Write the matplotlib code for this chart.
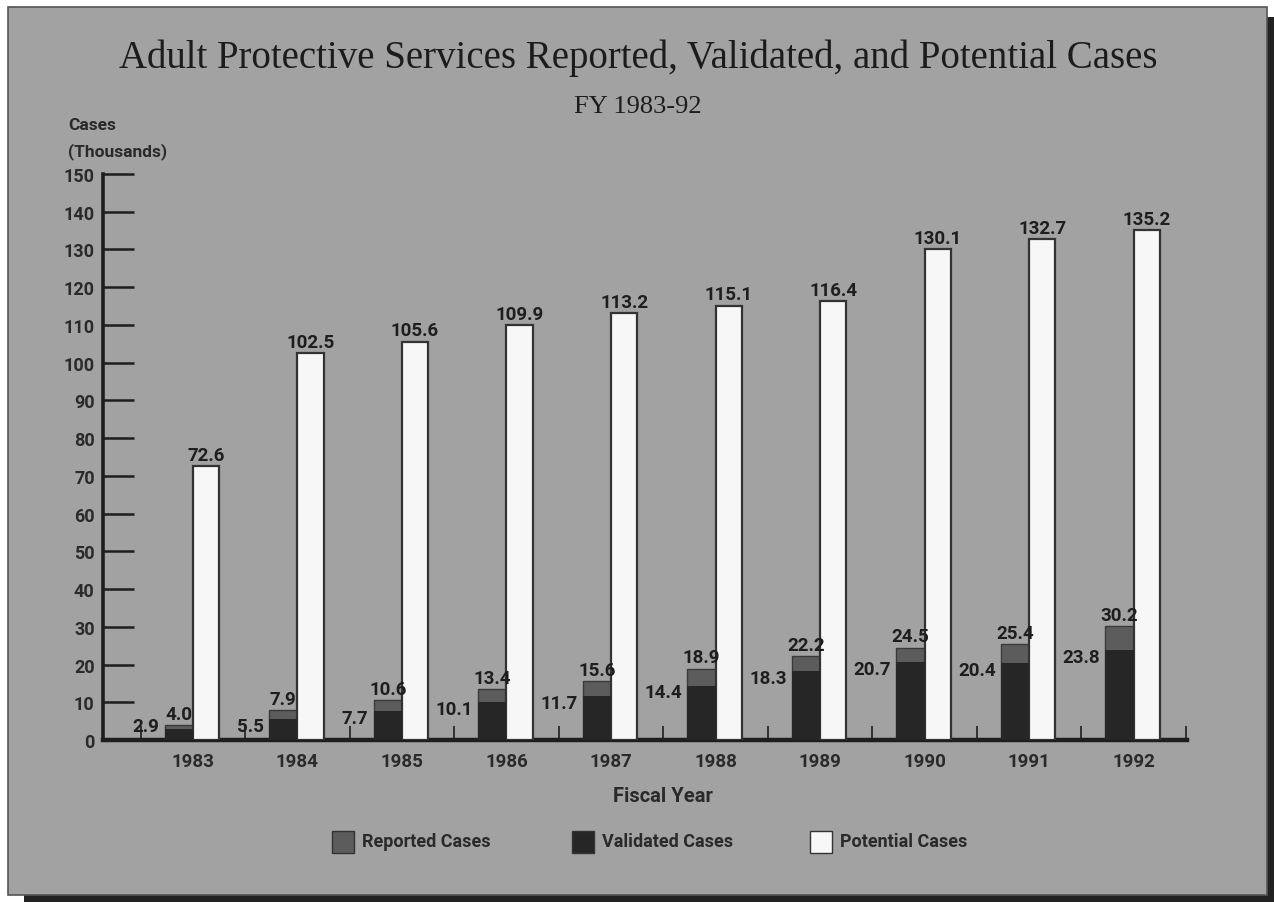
import matplotlib
matplotlib.use("Agg")
import matplotlib.pyplot as plt
from matplotlib.patches import Rectangle
import numpy as np

years = ["1983", "1984", "1985", "1986", "1987", "1988", "1989", "1990", "1991", "1992"]
reported = [4.0, 7.9, 10.6, 13.4, 15.6, 18.9, 22.2, 24.5, 25.4, 30.2]
validated = [2.9, 5.5, 7.7, 10.1, 11.7, 14.4, 18.3, 20.7, 20.4, 23.8]
potential = [72.6, 102.5, 105.6, 109.9, 113.2, 115.1, 116.4, 130.1, 132.7, 135.2]
y_ticks = list(range(0, 151, 10))

BG = "#a2a2a2"
C_REP = "#5c5c5c"
C_VAL = "#262626"
C_POT = "#f7f7f7"
INK = "#1e1e1e"

SANS = ["Liberation Sans Narrow", "Roboto", "DejaVu Sans"]
SERIF = ["Liberation Serif", "DejaVu Serif"]

fig = plt.figure(figsize=(12.74, 9.03), dpi=100)
fig.patch.set_facecolor("white")

# panel with drop shadow
W, H = 1274, 903
def fx(px): return px / W
def fy(py): return 1 - py / H
fig.patches.append(Rectangle((fx(24), fy(903)), fx(1274 - 24), fy(18) - fy(903),
                             transform=fig.transFigure, facecolor="#222222",
                             edgecolor="none", zorder=0))
fig.patches.append(Rectangle((fx(8), fy(896)), fx(1267 - 8), fy(8) - fy(896),
                             transform=fig.transFigure, facecolor=BG,
                             edgecolor="#555555", linewidth=1.2, zorder=1))

ax = fig.add_axes([fx(103), fy(741), fx(1187) - fx(103), fy(175) - fy(741)])
ax.set_facecolor("none")
ax.set_zorder(2)

x = np.arange(len(years))
wl = 0.27
wr = 0.25
ax.bar(x - wl / 2, reported, width=wl, color=C_REP, edgecolor="#3a3a3a", linewidth=1.0, zorder=3)
ax.bar(x - wl / 2, validated, width=wl, color=C_VAL, edgecolor="none", linewidth=0, zorder=4)
ax.bar(x + wr / 2, potential, width=wr, color=C_POT, edgecolor="#333333", linewidth=1.6, zorder=3)

lab_kw = dict(fontsize=13.5, fontweight="bold", color=INK, family=SANS)
for i in range(len(years)):
    ax.text(x[i] - wl / 2, reported[i] + 0.6, f"{reported[i]:.1f}", ha="center", va="bottom", zorder=5, **lab_kw)
    ax.text(x[i] + wr / 2, potential[i] + 0.6, f"{potential[i]:.1f}", ha="center", va="bottom", zorder=5, **lab_kw)
    ax.text(x[i] - wl - 0.05, max(validated[i] + 0.6, 6.0), f"{validated[i]:.1f}", ha="right", va="top", zorder=5, **lab_kw)

ax.set_xlim(-0.86, 9.51)
ax.set_ylim(0, 150)

for s in ["top", "right"]:
    ax.spines[s].set_visible(False)
ax.spines["left"].set_linewidth(2.6)
ax.spines["bottom"].set_linewidth(3.2)
ax.spines["left"].set_color(INK)
ax.spines["bottom"].set_color(INK)

ax.set_yticks(y_ticks)
ax.set_yticklabels([str(v) for v in y_ticks], family=SANS, fontsize=13, fontweight="bold", color="#2a2a2a")
ax.tick_params(axis="y", direction="in", length=22, width=1.8, color=INK, pad=6)

# group separators on the x axis, year labels centred under each group
ax.set_xticks(np.arange(-0.5, 10.0, 1.0))
ax.set_xticklabels([])
ax.tick_params(axis="x", direction="in", length=10, width=1.2, color=INK)
for i, yr in enumerate(years):
    ax.text(x[i], -3.2, yr, ha="center", va="top", family=SANS, fontsize=13.5,
            fontweight="bold", color="#2a2a2a")

fig.text(fx(663), fy(797), "Fiscal Year", ha="center", va="center", family=SANS,
         fontsize=14.5, fontweight="bold", color="#2a2a2a")

fig.text(fx(68), fy(125), "Cases", ha="left", va="center", family=SANS,
         fontsize=12.5, fontweight="bold", color="#2a2a2a")
fig.text(fx(68), fy(152), "(Thousands)", ha="left", va="center", family=SANS,
         fontsize=12.5, fontweight="bold", color="#2a2a2a")

fig.text(fx(638), fy(58), "Adult Protective Services Reported, Validated, and Potential Cases",
         ha="center", va="center", family=SERIF, fontsize=28, color="#1c1c1c")
fig.text(fx(638), fy(107), "FY 1983-92", ha="center", va="center", family=SERIF,
         fontsize=19, color="#1c1c1c")

# legend
legend_items = [("Reported Cases", C_REP, 332), ("Validated Cases", C_VAL, 572), ("Potential Cases", C_POT, 810)]
for name, col, px in legend_items:
    fig.patches.append(Rectangle((fx(px), fy(854)), fx(22), fy(832) - fy(854),
                                 transform=fig.transFigure, facecolor=col,
                                 edgecolor="#333333", linewidth=1.0, zorder=3))
    fig.text(fx(px + 30), fy(842), name, ha="left", va="center", family=SANS,
             fontsize=13, fontweight="bold", color="#2a2a2a")

fig.savefig("out.png", dpi=100, facecolor=fig.get_facecolor())
